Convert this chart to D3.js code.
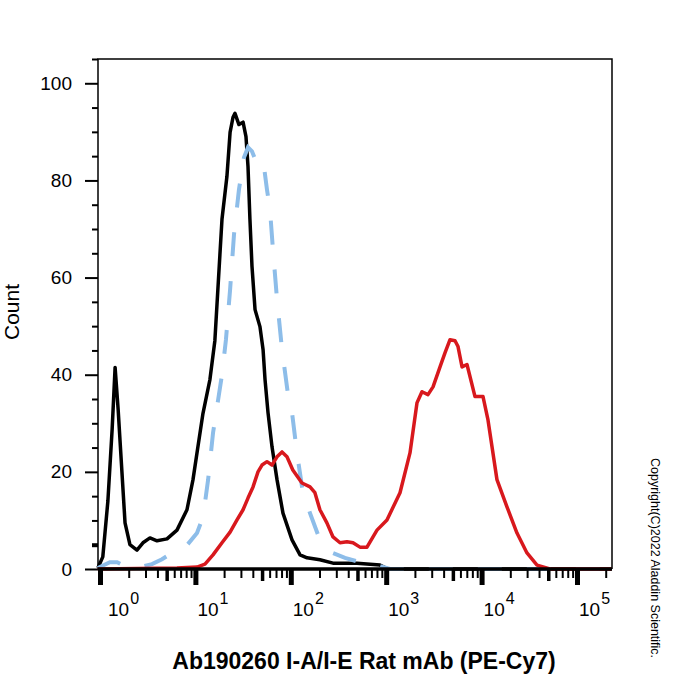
<!DOCTYPE html>
<html>
<head>
<meta charset="utf-8">
<script src="https://cdn.jsdelivr.net/npm/d3@7"></script>
<style>
	body { margin: 0; background: #fff; }
	svg { display: block; font-family: Arial, "Liberation Sans", sans-serif; }
</style>
</head>
<body>
<svg width="700" height="700"></svg>
<script>
// fluorescence channel values and event counts
const blackX = [0.95, 1.07, 1.21, 1.34, 1.44, 1.55, 1.62, 1.83, 2.06, 2.44, 2.82, 3.34, 3.96, 5.04, 6.41, 8.16, 9.44, 10.6, 12.0, 14.2, 16.0, 19.0, 21.4, 23.1, 24.8, 26.0, 28.6, 31.6, 33.9, 35.6, 37.3, 39.2, 42.2, 47.5, 51.2, 53.7, 57.7, 63.5, 71.7, 82.8, 103, 125, 148, 202, 277, 494, 861, 1045, 230000]
const blackY = [0.2, 2.5, 14, 28.7, 41.5, 32.8, 26.6, 9.5, 5, 3.9, 5.4, 6.4, 5.8, 6.2, 8, 12.2, 18.4, 25, 32, 39, 47, 72, 80.8, 89.9, 93, 93.8, 91.5, 92, 89, 82.9, 72, 62.3, 53.4, 49.9, 45.2, 39, 32.2, 25.2, 18.4, 11.5, 6, 2.9, 2.3, 1.9, 1.2, 1.2, 0.8, 0, 0]

const isotypeX = [0.95, 1.27, 1.51, 1.83, 2.63, 3.51, 4.47, 6.11, 8.16, 10.4, 11.7, 12.6, 13.6, 15.3, 17.3, 19.0, 20.9, 23.1, 25.4, 28.6, 32.3, 35.6, 39.2, 43.2, 47.5, 51.2, 56.3, 60.5, 65.0, 71.7, 80.9, 93.5, 103, 116, 134, 159, 202, 277, 370, 531, 861, 1096, 230000]
const isotypeY = [0.2, 1.4, 1.4, 0.6, 0.4, 1, 2, 3.7, 4.9, 7.4, 10.1, 13.6, 18.4, 28, 34.8, 40, 47.2, 57.5, 68.9, 78.1, 84.7, 86.8, 86, 83.9, 83.9, 84.3, 78.1, 74, 65.8, 55.5, 45.2, 35.9, 32.2, 23.9, 15.7, 11.5, 6, 3.3, 2.3, 1.4, 0.6, 0, 0]

const stainedX = [0.95, 6.41, 10.4, 12.6, 15.3, 19.0, 23.1, 27.3, 31.6, 35.6, 40.2, 45.3, 49.9, 56.3, 63.5, 71.7, 80.9, 91.2, 105, 131, 159, 179, 202, 239, 277, 328, 388, 449, 531, 629, 801, 1019, 1396, 1776, 2102, 2372, 2742, 3097, 3667, 4133, 4667, 5265, 5662, 6237, 7031, 8531, 10350, 11670, 14490, 18450, 23500, 29900, 38100, 52100, 230000]
const stainedY = [0, 0.2, 0.4, 1, 2.9, 5.4, 7.6, 10.1, 12.2, 14.6, 16.9, 20, 21.4, 22.1, 21.4, 23.1, 24.1, 23.1, 20.4, 17.7, 16.9, 15.7, 12.2, 9.5, 6.6, 5.4, 5.6, 5.4, 4.5, 4.5, 8, 10.1, 15.7, 23.9, 34.2, 36.5, 35.9, 37.5, 41.6, 44.5, 47.2, 47, 45.8, 41.6, 42.1, 35.5, 35.5, 30.7, 18.4, 12.8, 7.4, 3.3, 0.8, 0, 0]

const yMajor = [0, 20, 40, 60, 80, 100]
const yMinor = [5, 10, 15, 25, 30, 35, 45, 50, 55, 65, 70, 75, 85, 90, 95, 105]
const xDecades = [0, 1, 2, 3, 4, 5]

const plotLeft = 98, plotRight = 612, plotTop = 59, plotBottom = 569

const svg = d3.select('svg')

const x = d3.scaleLog()
	.domain([0.953, 232800])
	.range([plotLeft, plotRight])

const y = d3.scaleLinear()
	.domain([0, 105])
	.range([plotBottom, plotTop])

const majorX = xDecades.map(d => Math.pow(10, d))
let minorX = [], midX = []
xDecades.forEach(d => {
	for (let k = 2; k <= 9; k++) {
		const v = k * Math.pow(10, d)
		if (v > x.domain()[1]) return
		if (k == 5) midX.push(v)
		else minorX.push(v)
	}
})

// frame
svg.append('path')
	.attr('d', `M${plotLeft},${plotBottom}V${plotTop}H${plotRight}V${plotBottom}`)
	.attr('fill', 'none')
	.attr('stroke', '#000')
	.attr('stroke-width', 1.5)

// y axis ticks
const yAx = svg.append('g').attr('transform', `translate(${plotLeft},0)`)
yAx.call(d3.axisLeft(y).tickValues(yMinor).tickSize(6).tickFormat(''))
yAx.append('g').call(d3.axisLeft(y).tickValues(yMajor).tickSize(13).tickPadding(13)
	.tickFormat(d3.format('d')))
yAx.selectAll('.domain').remove()
yAx.selectAll('line').attr('stroke', '#000').attr('stroke-width', 2)
yAx.select('g').selectAll('line').attr('stroke-width', 4)
yAx.selectAll('text')
	.attr('fill', '#000')
	.style('font-size', '19px')
	.style('font-family', 'Arial, "Liberation Sans", sans-serif')

// curves
const line = d3.line()
	.x(d => x(d[0]))
	.y(d => y(d[1]))

svg.append('path')
	.datum(d3.zip(blackX, blackY))
	.attr('d', line)
	.attr('fill', 'none')
	.attr('stroke', '#000')
	.attr('stroke-width', 3.5)
	.attr('stroke-linejoin', 'round')

svg.append('path')
	.datum(d3.zip(isotypeX, isotypeY))
	.attr('d', line)
	.attr('fill', 'none')
	.attr('stroke', '#8dbde9')
	.attr('stroke-width', 4)
	.attr('stroke-dasharray', '24,25')

svg.append('path')
	.datum(d3.zip(stainedX, stainedY))
	.attr('d', line)
	.attr('fill', 'none')
	.attr('stroke', '#d8181d')
	.attr('stroke-width', 3.5)
	.attr('stroke-linejoin', 'round')

// x axis
svg.append('line')
	.attr('x1', plotLeft).attr('x2', plotRight)
	.attr('y1', plotBottom).attr('y2', plotBottom)
	.attr('stroke', '#000')
	.attr('stroke-width', 3.5)

const xAx = svg.append('g').attr('transform', `translate(0,${plotBottom})`)
xAx.append('g').call(d3.axisBottom(x).tickValues(minorX).tickSize(9).tickFormat(''))
	.selectAll('line').attr('stroke-width', 2)
xAx.append('g').call(d3.axisBottom(x).tickValues(midX).tickSize(12).tickFormat(''))
	.selectAll('line').attr('stroke-width', 3.5)
xAx.append('g').call(d3.axisBottom(x).tickValues(majorX).tickSize(16).tickFormat(''))
	.selectAll('line').attr('stroke-width', 5)
xAx.selectAll('.domain').remove()
xAx.selectAll('line').attr('stroke', '#000')

const xLab = svg.append('g')
	.selectAll('text')
	.data(xDecades)
	.enter()
	.append('text')
	.attr('x', (d, i) => x(Math.pow(10, d)) + (i == 0 ? 8 : 2))
	.attr('y', 616)
	.style('font-size', '19px')
	.attr('fill', '#000')
xLab.append('tspan').text('10')
xLab.append('tspan')
	.attr('dy', -12)
	.attr('dx', 1)
	.style('font-size', '16px')
	.text(d => d)

// titles
svg.append('text')
	.attr('x', 364)
	.attr('y', 669)
	.attr('text-anchor', 'middle')
	.style('font-size', '23px')
	.style('font-weight', 'bold')
	.text('Ab190260 I-A/I-E Rat mAb (PE-Cy7)')

svg.append('text')
	.attr('transform', 'translate(19,312) rotate(-90)')
	.attr('text-anchor', 'middle')
	.style('font-size', '21px')
	.text('Count')

svg.append('text')
	.attr('transform', 'translate(651,558) rotate(90)')
	.attr('text-anchor', 'middle')
	.style('font-size', '12.5px')
	.text('Copyright(C)2022 Aladdin Scientific.')
</script>
</body>
</html>
